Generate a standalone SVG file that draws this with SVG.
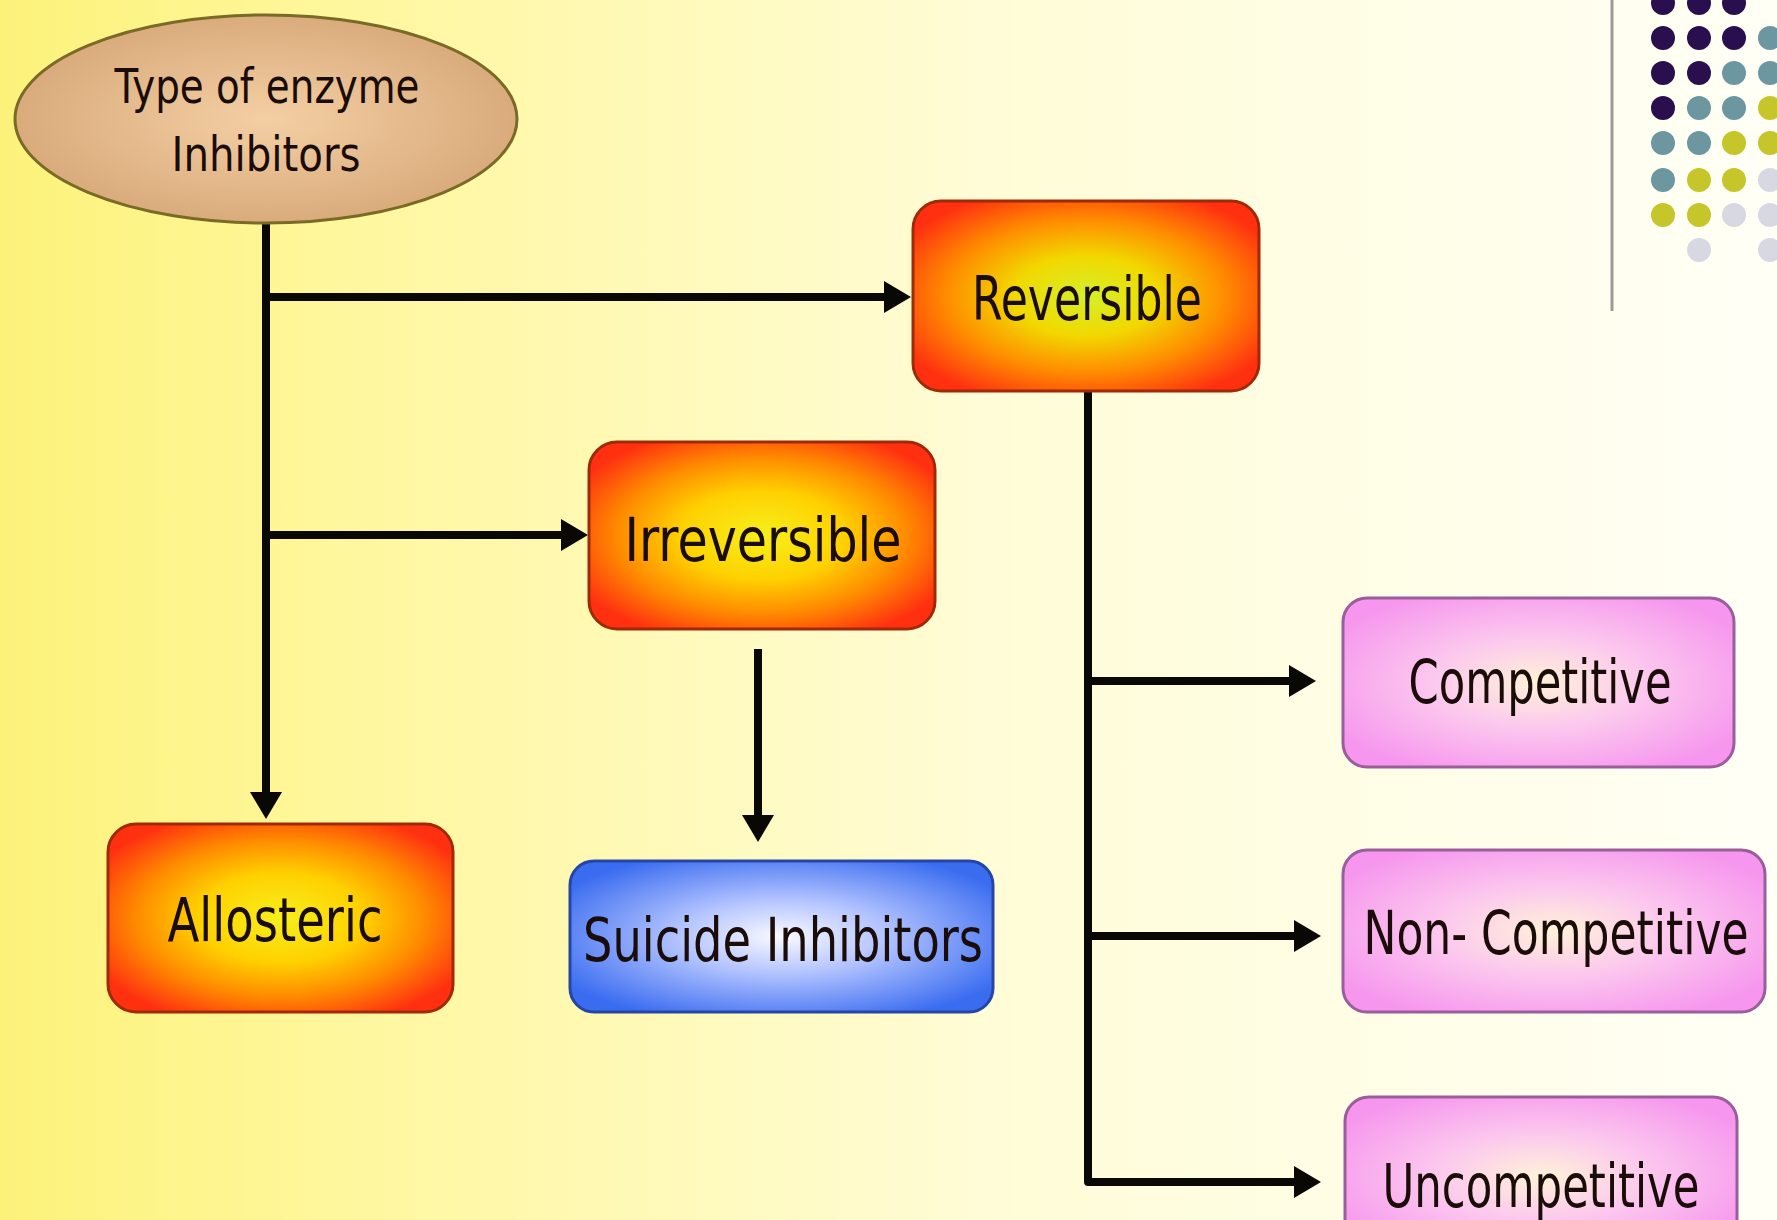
<svg xmlns="http://www.w3.org/2000/svg" width="1777" height="1220" viewBox="0 0 1777 1220">
<style>
.lbl{font-family:"DejaVu Sans","Liberation Sans",sans-serif;fill:#1a0c08;text-anchor:middle;}
.big{font-size:60px;}
.title{font-size:48px;}
.conn{fill:none;stroke:#0a0805;stroke-width:8;stroke-linejoin:round;}
.orange{stroke:#a02a08;stroke-width:3;}
.pink{stroke:#9a5e9a;stroke-width:3;fill:url(#gPink);}
</style>
<defs>
<linearGradient id="bg" x1="0" y1="0" x2="1" y2="0">
<stop offset="0" stop-color="#fcf27a"/>
<stop offset="0.2" stop-color="#fff79e"/>
<stop offset="0.55" stop-color="#fffcd6"/>
<stop offset="1" stop-color="#fffff6"/>
</linearGradient>
<radialGradient id="gEll" cx="0.5" cy="0.5" r="0.55">
<stop offset="0" stop-color="#f4cfa4"/>
<stop offset="1" stop-color="#d7a878"/>
</radialGradient>
<radialGradient id="gOrange" cx="0.5" cy="0.5" r="0.6">
<stop offset="0" stop-color="#f6f01c"/>
<stop offset="0.4" stop-color="#ffd000"/>
<stop offset="0.7" stop-color="#ff8a00"/>
<stop offset="1" stop-color="#ff3010"/>
</radialGradient>
<radialGradient id="gRev" cx="0.5" cy="0.5" r="0.6">
<stop offset="0" stop-color="#d4f02a"/>
<stop offset="0.35" stop-color="#f2d800"/>
<stop offset="0.68" stop-color="#ff8a00"/>
<stop offset="1" stop-color="#ff3010"/>
</radialGradient>
<radialGradient id="gPink" cx="0.5" cy="0.5" r="0.6">
<stop offset="0" stop-color="#fff2d8"/>
<stop offset="0.45" stop-color="#fcc8ee"/>
<stop offset="1" stop-color="#f696ee"/>
</radialGradient>
<radialGradient id="gBlue" cx="0.5" cy="0.5" r="0.6">
<stop offset="0" stop-color="#fafaff"/>
<stop offset="0.4" stop-color="#b4c4ff"/>
<stop offset="1" stop-color="#3a6cf0"/>
</radialGradient>
<marker id="arr" markerUnits="userSpaceOnUse" markerWidth="28" markerHeight="32" refX="0" refY="16" orient="auto">
<path d="M0,0 L27,16 L0,32 Z" fill="#0a0805"/>
</marker>
</defs>
<rect width="1777" height="1220" fill="url(#bg)"/>
<g id="decor">
<line x1="1612" y1="0" x2="1612" y2="311" stroke="#9a9a9a" stroke-width="3"/>
<g fill="#2a0f4e">
<circle cx="1663" cy="3" r="12"/><circle cx="1699" cy="3" r="12"/><circle cx="1734" cy="3" r="12"/>
<circle cx="1663" cy="38" r="12"/><circle cx="1699" cy="38" r="12"/><circle cx="1734" cy="38" r="12"/>
<circle cx="1663" cy="73" r="12"/><circle cx="1699" cy="73" r="12"/>
<circle cx="1663" cy="108" r="12"/>
</g>
<g fill="#6c96a0">
<circle cx="1770" cy="38" r="12"/>
<circle cx="1734" cy="73" r="12"/><circle cx="1770" cy="73" r="12"/>
<circle cx="1699" cy="108" r="12"/><circle cx="1734" cy="108" r="12"/>
<circle cx="1663" cy="143" r="12"/><circle cx="1699" cy="143" r="12"/>
<circle cx="1663" cy="180" r="12"/>
</g>
<g fill="#c6c62a">
<circle cx="1770" cy="108" r="12"/>
<circle cx="1734" cy="143" r="12"/><circle cx="1770" cy="143" r="12"/>
<circle cx="1699" cy="180" r="12"/><circle cx="1734" cy="180" r="12"/>
<circle cx="1663" cy="215" r="12"/><circle cx="1699" cy="215" r="12"/>
</g>
<g fill="#d8d8e2">
<circle cx="1770" cy="180" r="12"/>
<circle cx="1734" cy="215" r="12"/><circle cx="1770" cy="215" r="12"/>
<circle cx="1699" cy="250" r="12"/><circle cx="1770" cy="250" r="12"/>
</g>
</g>
<g id="connectors">
<path class="conn" d="M266,221 V792" marker-end="url(#arr)"/>
<path class="conn" d="M266,297 H884" marker-end="url(#arr)"/>
<path class="conn" d="M266,535 H561" marker-end="url(#arr)"/>
<path class="conn" d="M758,649 V815" marker-end="url(#arr)"/>
<path class="conn" d="M1088,391 V1182 H1294" marker-end="url(#arr)"/>
<path class="conn" d="M1088,681 H1289" marker-end="url(#arr)"/>
<path class="conn" d="M1088,936 H1294" marker-end="url(#arr)"/>
</g>
<g id="n-root">
<ellipse cx="266" cy="119" rx="251" ry="104" fill="url(#gEll)" stroke="#7a6a28" stroke-width="3"/>
<text class="lbl title" x="267" y="103" textLength="305" lengthAdjust="spacingAndGlyphs">Type of enzyme</text>
<text class="lbl title" x="266" y="171" textLength="189" lengthAdjust="spacingAndGlyphs">Inhibitors</text>
</g>
<g id="n-reversible">
<rect class="orange" x="913" y="201" width="346" height="190" rx="28" fill="url(#gRev)"/>
<text class="lbl big" x="1087" y="320" textLength="230" lengthAdjust="spacingAndGlyphs">Reversible</text>
</g>
<g id="n-irreversible">
<rect class="orange" x="589" y="442" width="346" height="187" rx="28" fill="url(#gOrange)"/>
<text class="lbl big" x="763" y="561" textLength="277" lengthAdjust="spacingAndGlyphs">Irreversible</text>
</g>
<g id="n-allosteric">
<rect class="orange" x="108" y="824" width="345" height="188" rx="28" fill="url(#gOrange)"/>
<text class="lbl big" x="275" y="941" textLength="215" lengthAdjust="spacingAndGlyphs">Allosteric</text>
</g>
<g id="n-suicide">
<rect x="570" y="861" width="423" height="151" rx="24" fill="url(#gBlue)" stroke="#2646a6" stroke-width="3"/>
<text class="lbl big" x="783" y="961" textLength="400" lengthAdjust="spacingAndGlyphs">Suicide Inhibitors</text>
</g>
<g id="n-competitive">
<rect class="pink" x="1343" y="598" width="391" height="169" rx="24"/>
<text class="lbl big" x="1540" y="703" textLength="263" lengthAdjust="spacingAndGlyphs">Competitive</text>
</g>
<g id="n-noncompetitive">
<rect class="pink" x="1343" y="850" width="422" height="162" rx="24"/>
<text class="lbl big" x="1556" y="954" textLength="385" lengthAdjust="spacingAndGlyphs">Non- Competitive</text>
</g>
<g id="n-uncompetitive">
<rect class="pink" x="1345" y="1097" width="392" height="160" rx="24"/>
<text class="lbl big" x="1541" y="1207" textLength="317" lengthAdjust="spacingAndGlyphs">Uncompetitive</text>
</g>
</svg>
